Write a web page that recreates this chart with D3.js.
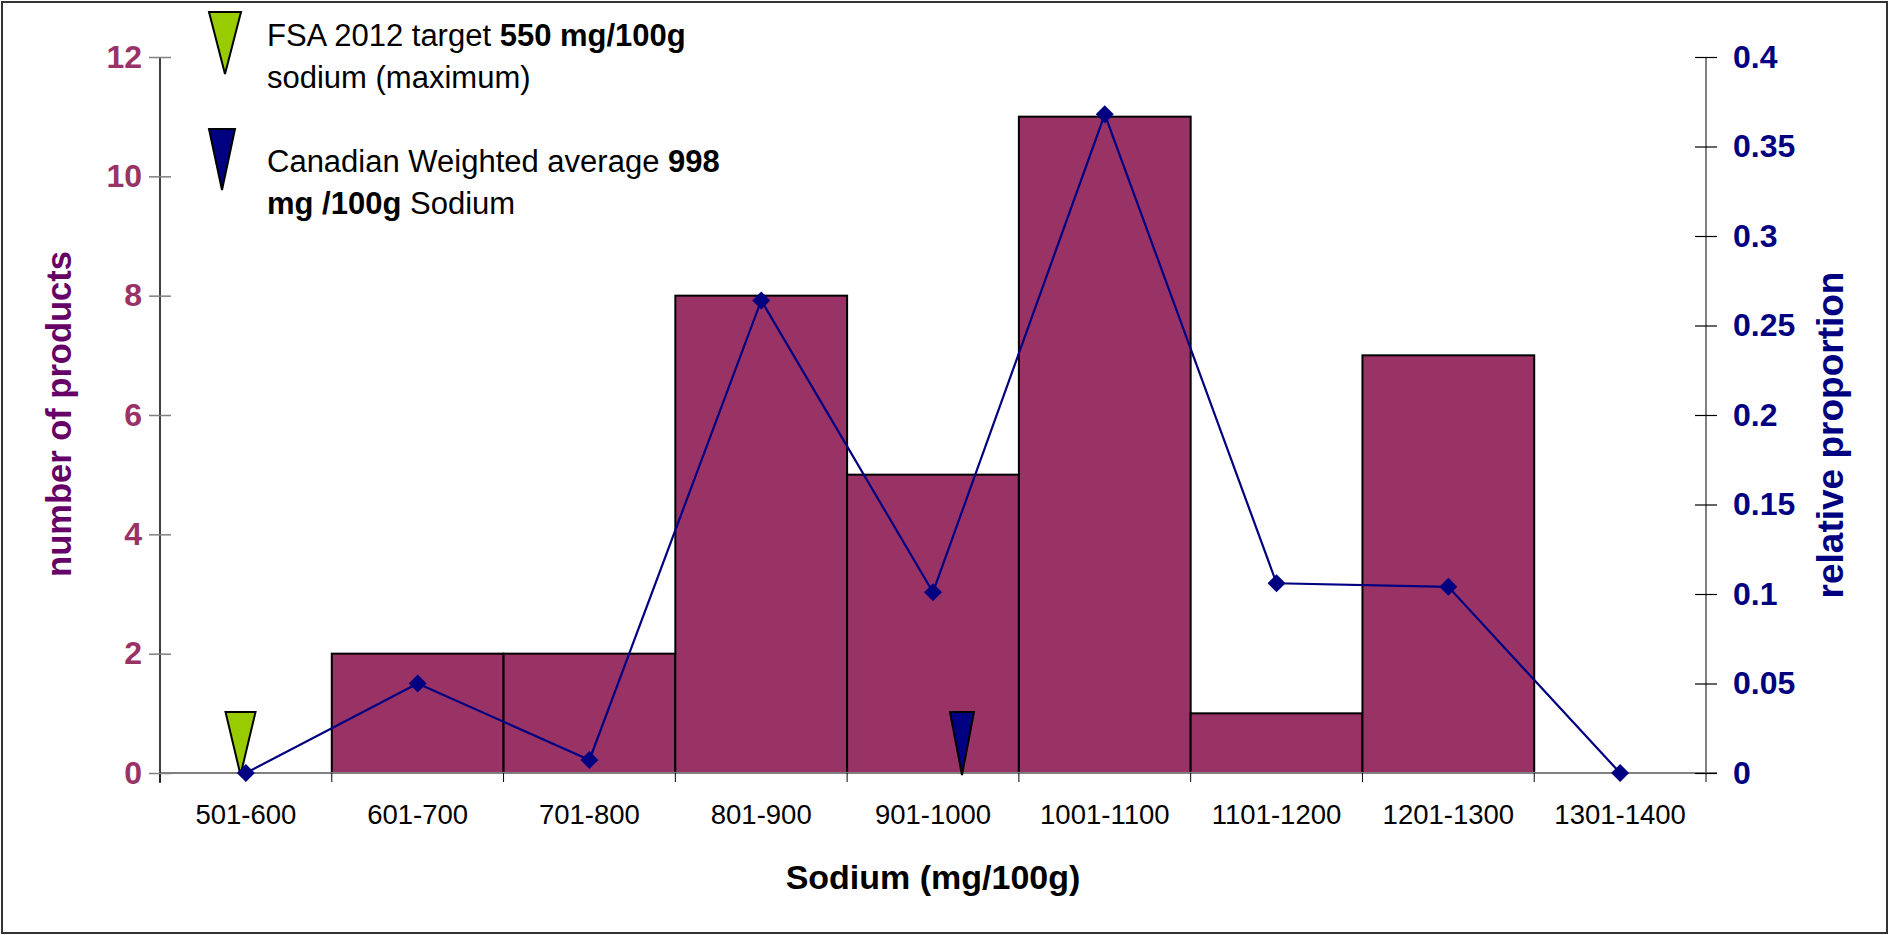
<!DOCTYPE html>
<html>
<head>
<meta charset="utf-8">
<script src="https://cdn.jsdelivr.net/npm/d3@7"></script>
<style>
  html, body { margin: 0; padding: 0; background: #fff; }
  svg { display: block; font-family: "Liberation Sans", Arial, sans-serif; }
</style>
</head>
<body>
<svg id="chart" width="1889" height="935"></svg>
<script>
// Sodium bands (mg/100g)
const categories = ["501-600", "601-700", "701-800", "801-900", "901-1000",
                    "1001-1100", "1101-1200", "1201-1300", "1301-1400"];
// Number of products in each band
const productCounts = [0, 2, 2, 8, 5, 11, 1, 7, 0];
// Relative proportion in each band
const relativeProportion = [0, 0.05, 0.0073, 0.264, 0.101, 0.368, 0.106, 0.104, 0];
// Axis ticks
const countTicks = [0, 2, 4, 6, 8, 10, 12];
const proportionTicks = [0, 0.05, 0.1, 0.15, 0.2, 0.25, 0.3, 0.35, 0.4];
// Reference sodium levels (mg/100g)
const fsaTarget = 550;
const canadianAverage = 998;

const svg = d3.select("#chart");
const W = 1889, H = 935;
const plot = { left: 160, right: 1706, top: 57, bottom: 773 };

const BAR_FILL = "#993366";
const NAVY = "#000080";
const GREEN = "#99CC00";

// outer frame
svg.append("rect")
  .attr("x", 2).attr("y", 2).attr("width", W - 4).attr("height", H - 4)
  .attr("fill", "#fff").attr("stroke", "#333").attr("stroke-width", 2);

const x = d3.scaleBand().domain(categories).range([plot.left, plot.right]).padding(0);
const yCount = d3.scaleLinear().domain([0, 12]).range([plot.bottom, plot.top]);
const yProp = d3.scaleLinear().domain([0, 0.4]).range([plot.bottom, plot.top]);
// the reference markers sit on their own sodium value axis
const xSodium = d3.scaleLinear().domain([500, 1460]).range([plot.left, plot.right]);

// bars
const barData = categories.map((c, i) => ({ c, v: productCounts[i] })).filter(d => d.v > 0);
svg.append("g").selectAll("rect").data(barData).join("rect")
  .attr("x", d => x(d.c))
  .attr("y", d => yCount(d.v))
  .attr("width", x.bandwidth())
  .attr("height", d => yCount(0) - yCount(d.v))
  .attr("fill", BAR_FILL)
  .attr("stroke", "#000").attr("stroke-width", 2);

// x axis
const xAxis = svg.append("g")
  .attr("transform", `translate(0,${plot.bottom})`)
  .call(d3.axisBottom(x).tickSize(0).tickPadding(0));
xAxis.select(".domain").remove();
xAxis.selectAll("text")
  .attr("y", 51).attr("dy", 0)
  .attr("font-size", 27.5).attr("fill", "#000")
  .attr("font-family", "Liberation Sans, Arial, sans-serif");
svg.append("line")
  .attr("x1", plot.left).attr("x2", plot.right + 11)
  .attr("y1", plot.bottom).attr("y2", plot.bottom)
  .attr("stroke", "#808080").attr("stroke-width", 2);
// boundary ticks
svg.append("g").selectAll("line").data(d3.range(categories.length + 1)).join("line")
  .attr("x1", i => plot.left + i * x.step())
  .attr("x2", i => plot.left + i * x.step())
  .attr("y1", plot.bottom).attr("y2", plot.bottom + 9)
  .attr("stroke", "#000").attr("stroke-width", 1);

// left axis
const leftAxis = svg.append("g")
  .attr("transform", `translate(${plot.left},0)`)
  .call(d3.axisLeft(yCount).tickValues(countTicks).tickFormat(d3.format("d")).tickSize(11).tickPadding(7));
leftAxis.select(".domain").attr("stroke", "#000").attr("stroke-width", 1.5).attr("d", `M0,${plot.top}V${plot.bottom + 10}`);
leftAxis.selectAll(".tick line").attr("x1", 11).attr("stroke", "#808080").attr("stroke-width", 1.5);
leftAxis.selectAll(".tick text")
  .attr("font-size", 32).attr("font-weight", "bold").attr("fill", BAR_FILL)
  .attr("font-family", "Liberation Sans, Arial, sans-serif");

// right axis
const rightAxis = svg.append("g")
  .attr("transform", `translate(${plot.right},0)`)
  .call(d3.axisRight(yProp).tickValues(proportionTicks).tickFormat(d => String(+d.toFixed(2))).tickSize(11).tickPadding(16));
rightAxis.select(".domain").attr("stroke", "#808080").attr("stroke-width", 2).attr("d", `M0,${plot.top}V${plot.bottom + 9}`);
rightAxis.selectAll(".tick line").attr("x1", -11).attr("stroke", "#000").attr("stroke-width", 1.2);
rightAxis.selectAll(".tick text")
  .attr("font-size", 32).attr("font-weight", "bold").attr("fill", NAVY)
  .attr("font-family", "Liberation Sans, Arial, sans-serif");

// reference markers on the x axis
function downTriangle(cx, yTop, yTip, halfW) {
  return `M${cx - halfW},${yTop}L${cx + halfW},${yTop}L${cx},${yTip}Z`;
}
const refMarkers = [
  { v: fsaTarget, fill: GREEN, halfW: 15 },
  { v: canadianAverage, fill: NAVY, halfW: 12 }
];
svg.append("g").selectAll("path").data(refMarkers).join("path")
  .attr("d", d => downTriangle(xSodium(d.v), plot.bottom - 61, plot.bottom + 2, d.halfW))
  .attr("fill", d => d.fill).attr("stroke", "#000").attr("stroke-width", 2)
  .attr("stroke-linejoin", "miter");

// proportion line
const lineData = categories.map((c, i) => ({ c, v: relativeProportion[i] }));
svg.append("path")
  .datum(lineData)
  .attr("fill", "none").attr("stroke", NAVY).attr("stroke-width", 2.2)
  .attr("d", d3.line().x(d => x(d.c) + x.bandwidth() / 2).y(d => yProp(d.v)));
svg.append("g").selectAll("path").data(lineData).join("path")
  .attr("transform", d => `translate(${x(d.c) + x.bandwidth() / 2},${yProp(d.v)})`)
  .attr("d", "M0,-9L9,0L0,9L-9,0Z")
  .attr("fill", NAVY);

// legend
const legend = svg.append("g");
legend.append("path").attr("d", downTriangle(225, 12, 74, 16))
  .attr("fill", GREEN).attr("stroke", "#000").attr("stroke-width", 2);
legend.append("path").attr("d", downTriangle(222, 129, 190, 13))
  .attr("fill", NAVY).attr("stroke", "#000").attr("stroke-width", 2);

const legendLines = [
  { y: 46, parts: [["FSA 2012 target ", "normal"], ["550 mg/100g", "bold"]] },
  { y: 88, parts: [["sodium (maximum)", "normal"]] },
  { y: 172, parts: [["Canadian Weighted average ", "normal"], ["998", "bold"]] },
  { y: 214, parts: [["mg /100g", "bold"], [" Sodium", "normal"]] }
];
legendLines.forEach(line => {
  const t = legend.append("text").attr("x", 267).attr("y", line.y)
    .attr("font-size", 31).attr("fill", "#000");
  line.parts.forEach(([s, w]) => t.append("tspan").attr("font-weight", w).text(s));
});

// axis titles
svg.append("text")
  .attr("x", (plot.left + plot.right) / 2).attr("y", 889)
  .attr("text-anchor", "middle").attr("font-size", 34).attr("font-weight", "bold")
  .attr("fill", "#000").text("Sodium (mg/100g)");
svg.append("text")
  .attr("transform", "translate(71,414) rotate(-90)")
  .attr("text-anchor", "middle").attr("font-size", 34.5).attr("font-weight", "bold")
  .attr("fill", "#660066").text("number of products");
svg.append("text")
  .attr("transform", "translate(1843,435) rotate(-90)")
  .attr("text-anchor", "middle").attr("font-size", 37).attr("font-weight", "bold")
  .attr("fill", NAVY).text("relative proportion");
</script>
</body>
</html>
